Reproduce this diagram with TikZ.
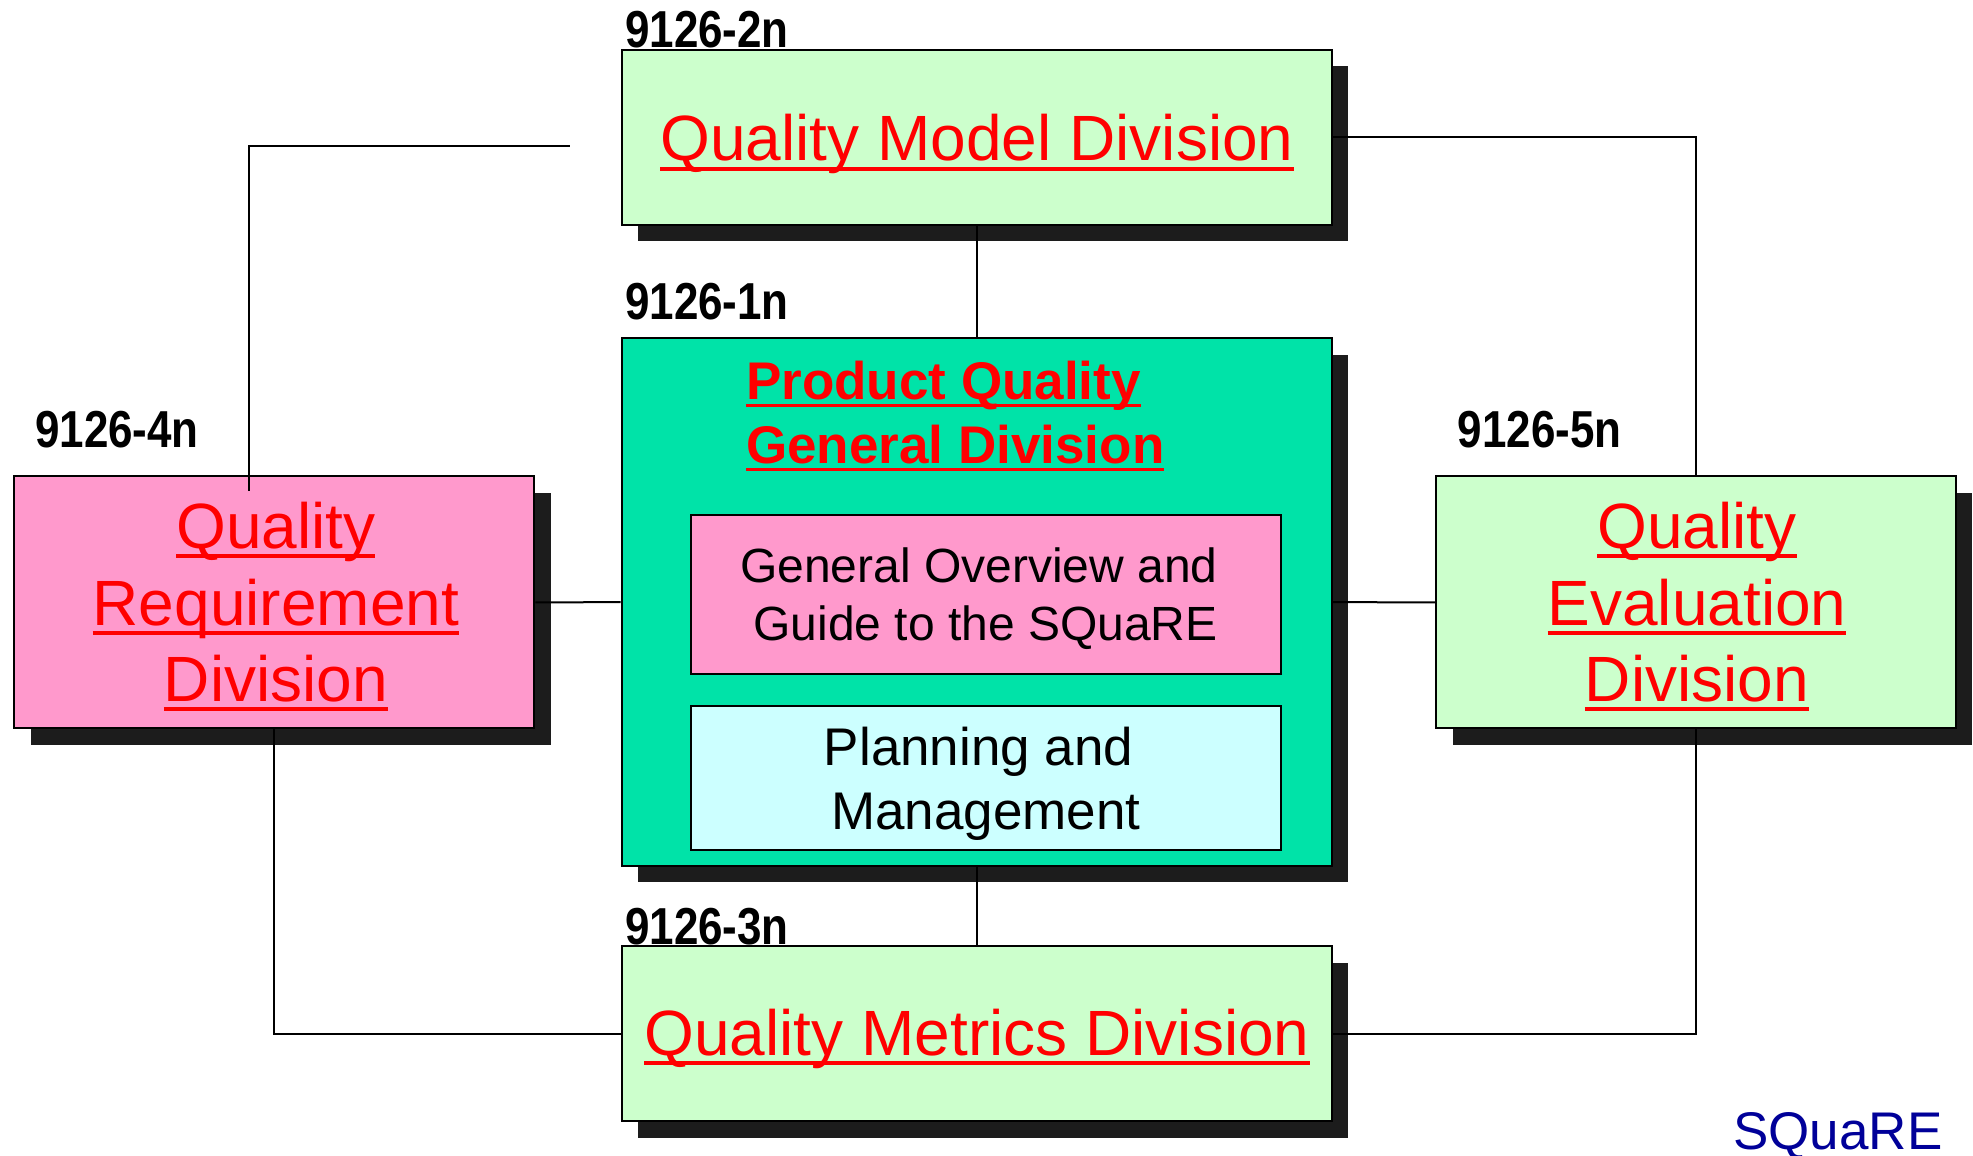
\documentclass[tikz,border=0pt]{standalone}
\usepackage{fontspec}
\setmainfont{Liberation Sans}
\newfontfamily\numfont[FakeStretch=0.845]{Liberation Sans}
\usetikzlibrary{shadows}

\definecolor{mintgreen}{HTML}{CCFFCC}
\definecolor{rosepink}{HTML}{FF99CC}
\definecolor{sqteal}{RGB}{0,227,168}
\definecolor{icecyan}{HTML}{CCFFFF}
\definecolor{shadowgray}{HTML}{1C1C1C}
\definecolor{sqnavy}{HTML}{000099}

\newsavebox{\ulbox}
\newcommand{\divline}[1]{\sbox{\ulbox}{#1}\rlap{\rule[-.156em]{\wd\ulbox}{.0625em}}\usebox{\ulbox}}

\begin{document}
\begin{tikzpicture}[x=1pt,y=-1pt,
  box/.style={draw,line width=2pt,inner sep=0pt},
  division/.style={box,general shadow={fill=shadowgray,shadow xshift=16.5pt,shadow yshift=-16.5pt}},
  divtext/.style={inner sep=0pt,anchor=base,text=red,align=center,font={\fontsize{64}{76.5}\selectfont}},
  partno/.style={inner sep=0pt,anchor=base west,font={\numfont\bfseries\fontsize{52}{60}\selectfont}},
  link/.style={line width=2pt}]
\useasboundingbox (0,0) rectangle (1973,1156);

% divisions
\node[division,fill=mintgreen,minimum width=710pt,minimum height=174.6pt] (QM) at (976.5,137.3) {};
\node[division,fill=sqteal,minimum width=710pt,minimum height=527.5pt] (PQ) at (976.5,602.2) {};
\node[box,fill=rosepink,minimum width=590pt,minimum height=159pt] (GO) at (985.6,594) {};
\node[box,fill=icecyan,minimum width=590pt,minimum height=144pt] (PM) at (985.6,778) {};
\node[division,fill=mintgreen,minimum width=710pt,minimum height=174.6pt] (QMe) at (976.5,1033.7) {};
\node[division,fill=rosepink,minimum width=520.4pt,minimum height=251.7pt] (QR) at (274.2,602.3) {};
\node[division,fill=mintgreen,minimum width=519.8pt,minimum height=251.7pt] (QE) at (1695.9,602.3) {};

% texts (base = last line)
\node[divtext] (QMtext) at (977,160.7) {\divline{Quality Model Division}};
\node[divtext] (QMetext) at (977,1055.4) {\divline{Quality Metrics Division}};
\node[divtext] (QRtext) at (275.9,701.5) {\divline{Quality}\\\divline{Requirement}\\\divline{Division}};
\node[divtext] (QEtext) at (1697,701.5) {\divline{Quality}\\\divline{Evaluation}\\\divline{Division}};
\node[inner sep=0pt,anchor=base west,align=left,text=red,font={\bfseries\fontsize{53}{64}\selectfont}] (PQtext) at (746,463.1) {\divline{Product Quality}\\\divline{General Division}};
\node[inner sep=0pt,anchor=base,align=center,font={\fontsize{48}{58}\selectfont}] (GOtext) at (985.5,640) {General Overview and\kern.278em\\Guide to the SQuaRE};
\node[inner sep=0pt,anchor=base,align=center,font={\fontsize{53}{64}\selectfont}] (PMtext) at (986,829.6) {Planning and\kern.278em\\Management};

% part numbers
\node[partno] (n2) at (625,47.8) {9126-2n};
\node[partno] (n1) at (625,319.6) {9126-1n};
\node[partno] (n3) at (625,944.4) {9126-3n};
\node[partno] (n4) at (35,447.8) {9126-4n};
\node[partno] (n5) at (1457.7,447.8) {9126-5n};
\node[inner sep=0pt,anchor=base west,text=sqnavy,font={\fontsize{53}{64}\selectfont}] (brand) at (1733,1149) {SQuaRE};

% links
\coordinate (QMend) at (569.5,145.8);
\coordinate (QRend) at (249.4,491);
\draw[link] (QMend) -| (QRend);
\draw[link] (QM.east) -| (QE.north);
\draw[link] (QM.south) -- (PQ.north);
\draw[link] (QR.east) -- (PQ.west);
\draw[link] (PQ.east) -- (QE.west);
\draw[link] (PQ.south) -- (QMe.north);
\draw[link] (QR.south) |- (QMe.west);
\draw[link] (QMe.east) -| (QE.south);
\end{tikzpicture}
\end{document}
